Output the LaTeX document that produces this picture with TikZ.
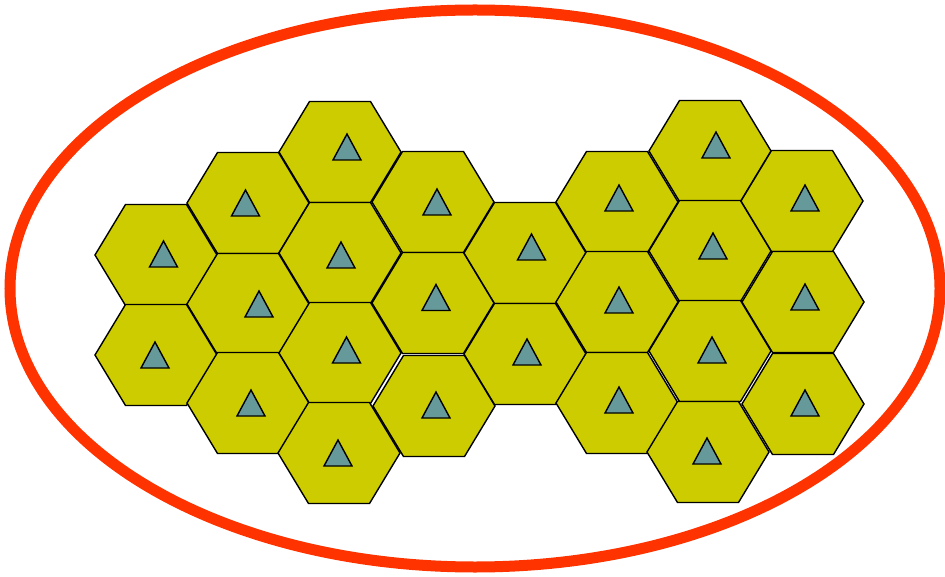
\documentclass[tikz,border=0pt]{standalone}
\usepackage{xcolor}
\definecolor{cellyellow}{RGB}{204,204,0}
\definecolor{mastteal}{RGB}{102,153,153}
\definecolor{borderred}{RGB}{255,51,0}
\tikzset{
  % style of one hexagonal cell
  hex cell/.style={fill=cellyellow,draw=black,line width=1.4pt,line join=miter},
  % style of the small triangle inside a cell
  mast mark/.style={fill=mastteal,draw=black,line width=1.4pt},
}

\begin{document}
\begin{tikzpicture}[x=1pt,y=-1pt]
\useasboundingbox (0,0) rectangle (945,577);

% cells: centre of the hexagon / base centre of the triangle
\foreach \cx/\cy/\tx/\ty in {
  156/255/163.5/267, 156/355/155/368,
  248/203/245.5/216, 248/304/259/317, 248/403/251/416,
  340/152/347/160, 340/253/341/268, 340/353/346.5/363, 339/453/338/466,
  433/202/437/215, 433/303/436/310.5, 434/406/436/418,
  525/253/531.5/260, 525/354/527/365,
  617/202/619/211, 617/302/619/313, 617/403/619/413,
  710/151/716/158, 710/251/713/259, 710/351/712/363, 708/452/707/464,
  802/201/805/211, 803/302/805/310, 803/404/805/416}{
  \draw[hex cell] (\cx-61,\cy) -- ++(30.5,-50.5) -- ++(61,0) -- ++(30.5,50.5)
    -- ++(-30.5,50.5) -- ++(-61,0) -- cycle;
  \draw[mast mark] (\tx-14,\ty) -- (\tx,\ty-26) -- (\tx+14,\ty) -- cycle;
}

% the border round the cells
\draw[color=borderred,line width=11pt] (475,288.5) ellipse (465 and 278.5);

\end{tikzpicture}
\end{document}
